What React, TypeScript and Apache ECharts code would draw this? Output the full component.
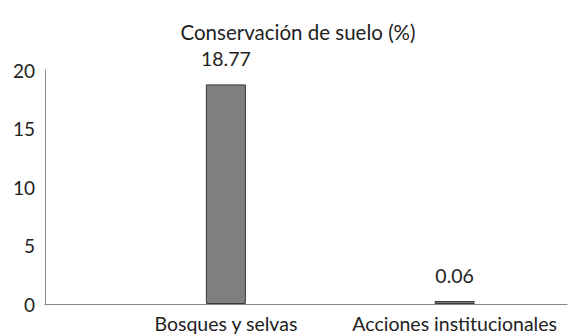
import React, { useEffect, useRef } from "react";
import * as echarts from "echarts";

const categories = ["Bosques y selvas", "Acciones institucionales"];
const values = [18.77, 0.06];
const valueLabels = ["18.77", "0.06"];
const titleText = "Conservación de suelo (%)";

const FONT = "Lato, 'Noto Sans', sans-serif";

export default function App() {
  const ref = useRef<HTMLDivElement>(null);
  useEffect(() => {
    if (!ref.current) return;
    const chart = echarts.init(ref.current, undefined, { renderer: "svg" });
    chart.setOption({
      animation: false,
      backgroundColor: "#ffffff",
      title: {
        text: titleText,
        left: 293,
        textAlign: "center",
        top: 16,
        textStyle: { fontFamily: FONT, fontSize: 20.5, fontWeight: "normal", color: "#222" },
      },
      grid: [
        { left: 45, right: 2, top: 70, bottom: 32 },
        { left: 111.5, width: 460, top: 70, bottom: 32 },
      ],
      xAxis: [
        {
          gridIndex: 0,
          type: "category",
          data: [""],
          axisLine: { show: true, lineStyle: { color: "#8a8a8a", width: 1 } },
          axisTick: { show: false },
          axisLabel: { show: false },
          splitLine: { show: false },
        },
        {
          gridIndex: 1,
          type: "category",
          data: categories,
          axisLine: { show: false },
          axisTick: { show: false },
          axisLabel: { interval: 0, hideOverlap: false, margin: 9, fontFamily: FONT, fontSize: 19.5, color: "#222" },
          splitLine: { show: false },
        },
      ],
      yAxis: [
        {
          gridIndex: 0,
          type: "value",
          min: 0,
          max: 20,
          interval: 5,
          axisLine: { show: true, lineStyle: { color: "#8a8a8a", width: 1 } },
          axisTick: { show: false },
          splitLine: { show: false },
          axisLabel: { margin: 10, fontFamily: FONT, fontSize: 19, color: "#222", padding: [0, 0, 4, 0] },
        },
        { gridIndex: 1, type: "value", min: 0, max: 20, show: false, splitLine: { show: false } },
      ],
      series: [
        {
          type: "bar",
          xAxisIndex: 1,
          yAxisIndex: 1,
          data: values,
          barWidth: 40,
          barMinHeight: 3,
          itemStyle: { color: "#7f7f82", borderColor: "#3a3a3a", borderWidth: 1 },
          label: {
            show: true,
            position: "top",
            distance: 16,
            fontFamily: FONT,
            fontSize: 19.5,
            color: "#222",
            formatter: (p: any) => valueLabels[p.dataIndex],
          },
        },
      ],
    });
    return () => chart.dispose();
  }, []);
  return <div ref={ref} style={{ width: 569, height: 336, position: "absolute", left: 0, top: 0 }} />;
}
